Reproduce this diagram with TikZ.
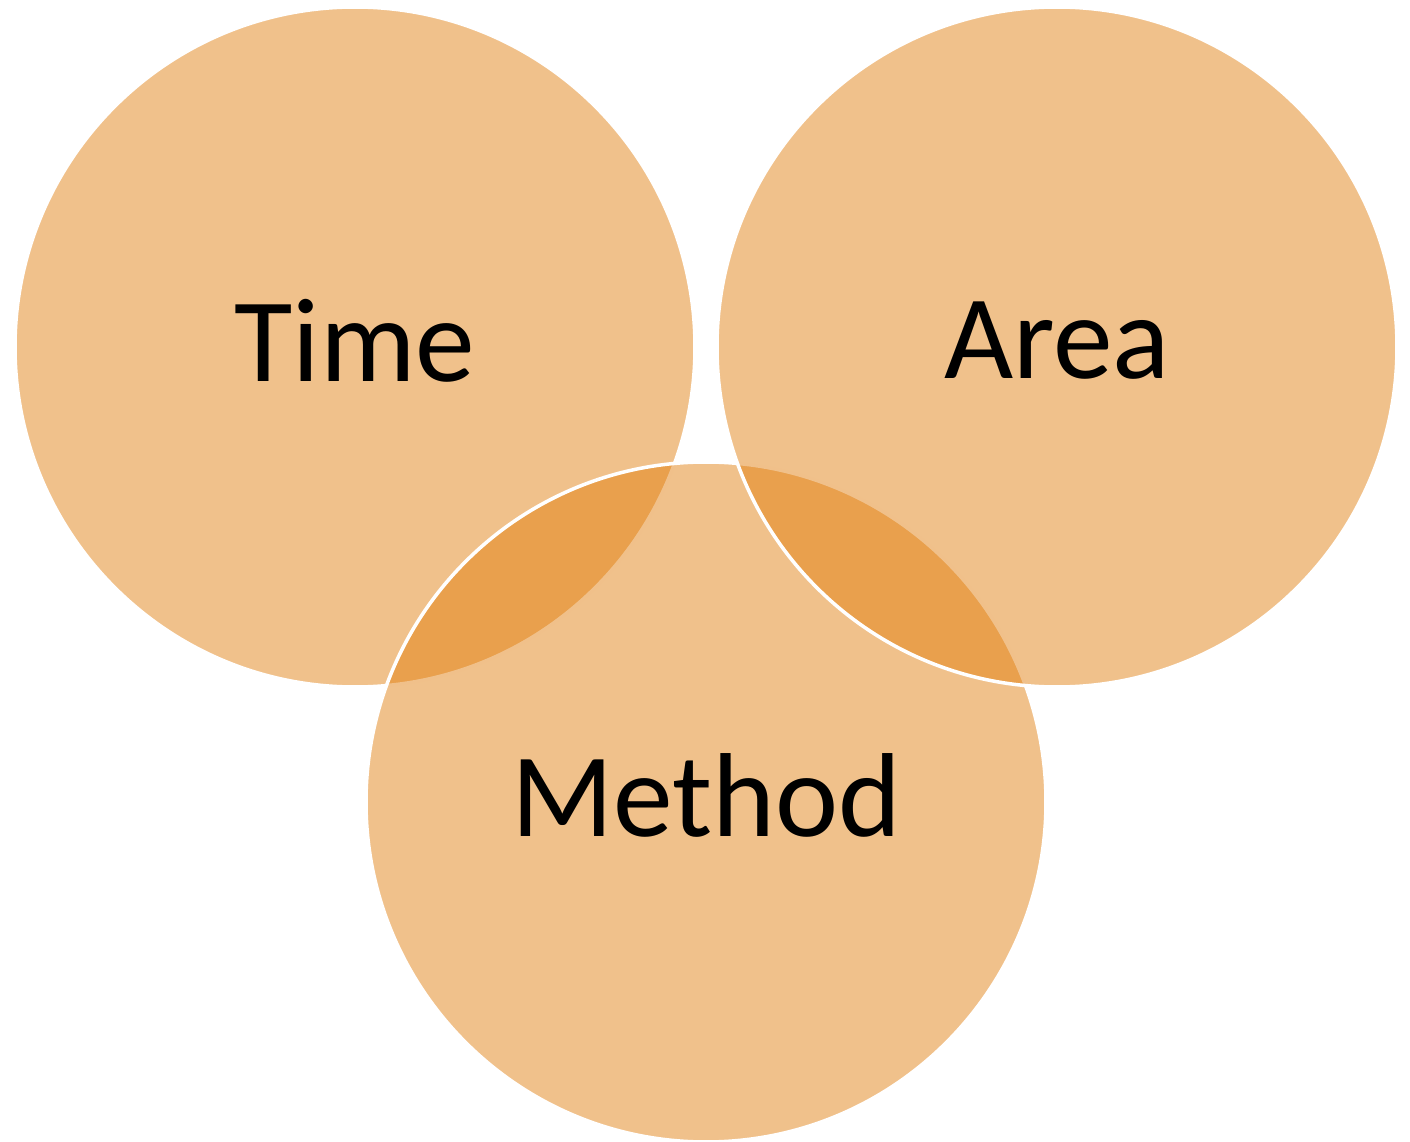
\documentclass[tikz,border=0pt]{standalone}
\usepackage{fontspec}
\setmainfont{Carlito}
\definecolor{vennfill}{RGB}{224,123,8}
\begin{document}
\begin{tikzpicture}[set/.style={circle,minimum size=6.8cm,inner sep=0pt,text depth=0.13cm,fill=vennfill,fill opacity=0.47,draw=white,line width=1pt,text opacity=1,font=\fontsize{34}{40}\selectfont}]
\useasboundingbox (0,0) rectangle (14.10,11.42);
\node[set] (time) at (3.55,7.95) {Time};
\node[set] (method) at (7.06,3.40) {Method};
\node[set] (area) at (10.57,7.95) {Area};
\end{tikzpicture}
\end{document}
